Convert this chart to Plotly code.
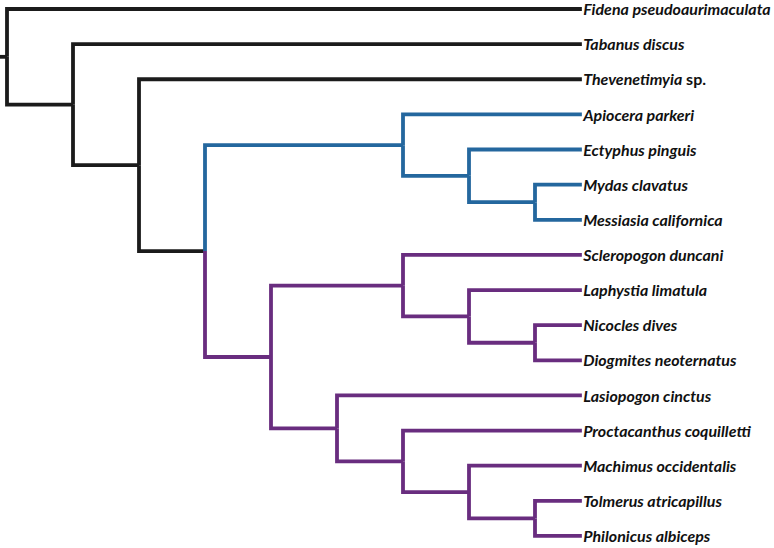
import plotly.graph_objects as go

# ---- data ----
NEWICK = ("(Fidena pseudoaurimaculata,(Tabanus discus,(Thevenetimyia sp.,"
          "((Apiocera parkeri,(Ectyphus pinguis,(Mydas clavatus,Messiasia californica))),"
          "((Scleropogon duncani,(Laphystia limatula,(Nicocles dives,Diogmites neoternatus))),"
          "(Lasiopogon cinctus,(Proctacanthus coquilletti,(Machimus occidentalis,"
          "(Tolmerus atricapillus,Philonicus albiceps)))))))));")
blue_clade = ["Apiocera parkeri", "Ectyphus pinguis", "Mydas clavatus", "Messiasia californica"]
purple_clade = ["Scleropogon duncani", "Laphystia limatula", "Nicocles dives", "Diogmites neoternatus",
                "Lasiopogon cinctus", "Proctacanthus coquilletti", "Machimus occidentalis",
                "Tolmerus atricapillus", "Philonicus albiceps"]

BLACK = "#1b1b1b"
BLUE = "#24679e"
PURPLE = "#692d7f"


# ---- parse newick ----
def parse(s):
    pos = 0

    def node():
        nonlocal pos
        if s[pos] == "(":
            pos += 1
            kids = [node()]
            while s[pos] == ",":
                pos += 1
                kids.append(node())
            pos += 1  # ')'
            return {"children": kids}
        start = pos
        while s[pos] not in ",()":
            pos += 1
        return {"name": s[start:pos].strip(), "children": []}

    return node()


tree = parse(NEWICK)
leaves = []


def layout(n):
    if not n["children"]:
        n["h"] = 0
        n["y"] = len(leaves)
        leaves.append(n)
        n["leafnames"] = [n["name"]]
        return
    for c in n["children"]:
        layout(c)
    n["h"] = 1 + max(c["h"] for c in n["children"])
    n["y"] = (n["children"][0]["y"] + n["children"][-1]["y"]) / 2
    n["leafnames"] = sum((c["leafnames"] for c in n["children"]), [])


layout(tree)
H = tree["h"]
TIP_X = H - 0.29


def xof(n):
    return TIP_X if not n["children"] else H - n["h"]


def color_of(n):
    if all(l in blue_clade for l in n["leafnames"]):
        return BLUE
    if all(l in purple_clade for l in n["leafnames"]):
        return PURPLE
    return BLACK


segs = {BLACK: ([], []), BLUE: ([], []), PURPLE: ([], [])}
# root stub
segs[BLACK][0].extend([-0.12, 0, None])
segs[BLACK][1].extend([tree["y"], tree["y"], None])


def edges(n):
    for c in n["children"]:
        xs, ys = segs[color_of(c)]
        xs.extend([xof(n), xof(n), xof(c), None])
        ys.extend([n["y"], c["y"], c["y"], None])
        edges(c)


edges(tree)

fig = go.Figure()
for col, (xs, ys) in segs.items():
    fig.add_trace(go.Scatter(x=xs, y=ys, mode="lines", line=dict(color=col, width=3.8),
                             hoverinfo="skip", showlegend=False))


def fmt(name):
    if name.endswith(" sp."):
        return "<b><i>" + name[:-4] + "</i> sp.</b>"
    return "<b><i>" + name + "</i></b>"


fig.add_trace(go.Scatter(
    x=[TIP_X + 0.02] * len(leaves), y=[l["y"] + 0.06 for l in leaves], mode="text",
    text=[fmt(l["name"]) for l in leaves], textposition="middle right",
    textfont=dict(family="Lato", size=16, color="#111111"),
    hoverinfo="skip", showlegend=False))

px_x = 66.0
px_y = 35.13
fig.update_layout(
    width=774, height=548, margin=dict(l=0, r=0, t=0, b=0),
    paper_bgcolor="white", plot_bgcolor="white",
    xaxis=dict(range=[-7 / px_x, (774 - 7) / px_x], visible=False, fixedrange=True),
    yaxis=dict(range=[(548 - 9) / px_y, -9 / px_y], visible=False, fixedrange=True),
)
fig.write_html("out.html", post_script="document.body.style.margin='0';document.body.style.padding='0';",
               config={"displayModeBar": False})
